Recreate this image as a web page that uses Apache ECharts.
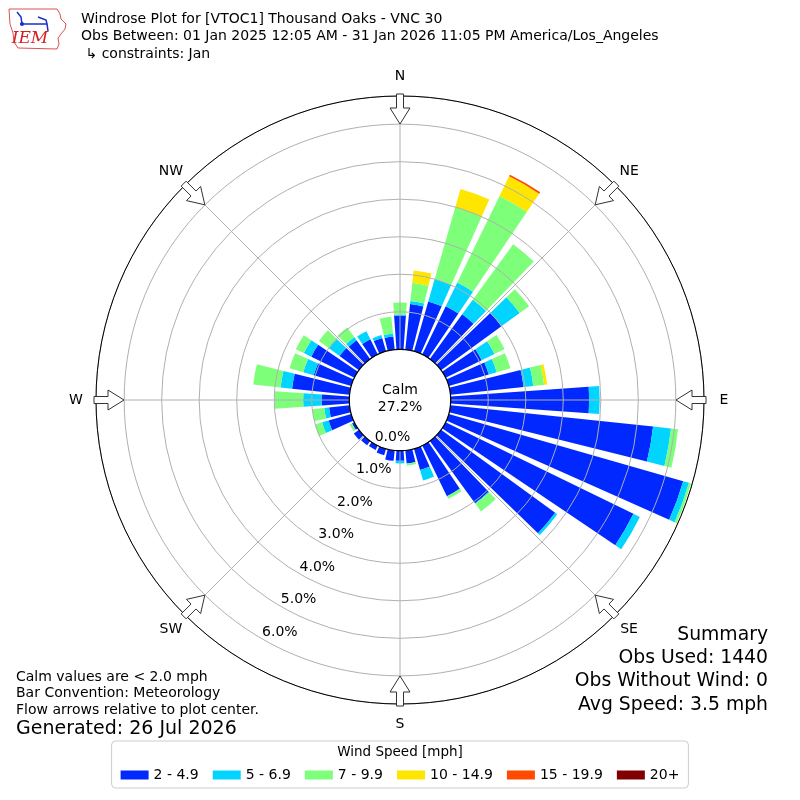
<!DOCTYPE html>
<html><head><meta charset="utf-8">
<script src="https://cdn.jsdelivr.net/npm/echarts@6/dist/echarts.min.js"></script>
<style>html,body{margin:0;padding:0;background:#fff}#c{width:800px;height:800px}</style>
</head><body><div id="c"></div>
<script>
// ---------- data ----------
const directions = [0,10,20,30,40,50,60,70,80,90,100,110,120,130,140,150,160,170,180,190,200,210,220,230,240,250,260,270,280,290,300,310,320,330,340,350];
const speedBins = ['2 - 4.9','5 - 6.9','7 - 9.9','10 - 14.9','15 - 19.9','20+'];
const binColors = ['#0028ff','#00d4ff','#7dff7a','#ffe600','#ff4a00','#800000'];
// percent of observations per direction (meteorological convention)
const s2to5   = [0.90,1.22,1.38,1.43,1.47,1.99,1.07,1.11,1.96,3.69,5.43,6.50,5.57,3.76,2.05,1.50,0.59,0.35,0.27,0.28,0.18,0.13,0.14,0.17,0.07,0.63,0.55,0.74,1.54,1.04,1.28,0.64,0.62,0.45,0.37,0.35];
const s5to7   = [0.03,0.08,0.63,0.70,0.48,0.60,0.38,0.22,0.26,0.28,0.48,0.16,0.19,0.07,0.02,0.00,0.29,0.00,0.07,0.00,0.00,0.00,0.00,0.00,0.00,0.18,0.13,0.49,0.31,0.29,0.22,0.35,0.10,0.24,0.08,0.08];
const s7to10  = [0.32,0.49,1.99,2.57,1.83,0.31,0.30,0.38,0.29,0.00,0.19,0.06,0.00,0.00,0.25,0.08,0.00,0.06,0.00,0.00,0.00,0.00,0.00,0.00,0.07,0.20,0.32,0.76,0.73,0.38,0.24,0.33,0.32,0.00,0.00,0.45];
const s10to15 = [0,0.33,0.50,0.58,0,0,0,0,0.08,0,0,0,0,0,0,0,0,0,0,0,0,0,0,0,0,0,0,0,0,0,0,0,0,0,0,0];
const s15to20 = [0,0,0,0.05,0,0,0,0,0,0,0,0,0,0,0,0,0,0,0,0,0,0,0,0,0,0,0,0,0,0,0,0,0,0,0,0];
const s20plus = [0,0,0,0,0,0,0,0,0,0,0,0,0,0,0,0,0,0,0,0,0,0,0,0,0,0,0,0,0,0,0,0,0,0,0,0];
const ringTicks = [0,1,2,3,4,5,6];
const compassLabels = ['N','NE','E','SE','S','SW','W','NW'];
const compassAngles = [0,45,90,135,180,225,270,315];
const calmPct = 27.2;
const titleLines = ['Windrose Plot for [VTOC1] Thousand Oaks - VNC 30',
  'Obs Between: 01 Jan 2025 12:05 AM - 31 Jan 2026 11:05 PM America/Los_Angeles',
  ' \u21b3 constraints: Jan'];
const noteLines = ['Calm values are < 2.0 mph','Bar Convention: Meteorology','Flow arrows relative to plot center.'];
const generatedText = 'Generated: 26 Jul 2026';
const summaryLines = ['Summary','Obs Used: 1440','Obs Without Wind: 0','Avg Speed: 3.5 mph'];

// ---------- layout ----------
const CX = 400, CY = 400, R0 = 50.7, R1 = 304, RMAX = 6.75;
const FONT = '"DejaVu Sans", "Liberation Sans", sans-serif';
const binSeries = [s2to5, s5to7, s7to10, s10to15, s15to20, s20plus];

const chart = echarts.init(document.getElementById('c'), null, {renderer: 'canvas'});

function rad(deg){ return deg * Math.PI / 180; }
function pt(r, deg){ return [CX + r * Math.sin(rad(deg)), CY - r * Math.cos(rad(deg))]; }

const graphics = [];
function txt(text, x, y, size, align, vAlign, extra){
  graphics.push(Object.assign({type:'text', x:x, y:y, z:100, silent:true,
    style:{text:text, fill:'#000', font: size + 'px ' + FONT, align:align, verticalAlign:vAlign, textAlign:align, textVerticalAlign:vAlign}}, extra||{}));
}

// calm circle
graphics.push({type:'circle', shape:{cx:CX, cy:CY, r:R0}, z:90, silent:true, style:{fill:'#fff', stroke:'#000', lineWidth:1.2}});
txt('Calm', CX, 390, 14, 'center', 'middle');
txt(calmPct.toFixed(1) + '%', CX, 407, 14, 'center', 'middle');

// compass arrows and labels
compassAngles.forEach((a, i) => {
  const s = Math.sin(rad(a)), c = Math.cos(rad(a));
  const P = (r, w) => [CX + r * s + w * c, CY - r * c + w * s];
  const pts = [P(276,0), P(292,10), P(292,3.5), P(306,3.5), P(306,-3.5), P(292,-3.5), P(292,-10)];
  graphics.push({type:'polygon', shape:{points:pts}, z:95, silent:true, style:{fill:'#fff', stroke:'#333', lineWidth:1}});
  const lp = pt(324, a);
  txt(compassLabels[i], lp[0], lp[1], 14, 'center', 'middle');
});

// titles
titleLines.forEach((t, i) => txt(t, 81, 19 + i * 17.5, 14, 'left', 'middle'));
// notes bottom-left
noteLines.forEach((t, i) => txt(t, 16, 677 + i * 16.5, 14, 'left', 'middle'));
txt(generatedText, 16, 729, 19, 'left', 'middle');
// summary bottom-right
summaryLines.forEach((t, i) => txt(t, 768, 635 + i * 23.3, 18.8, 'right', 'middle'));
// legend title
txt('Wind Speed [mph]', 400, 752, 13.5, 'center', 'middle');

// IEM logo (approximate)
graphics.push({type:'polyline', z:100, silent:true, shape:{points:[[9,9],[57,9],[60,14],[61,19],[66,24],[65,29],[61,34],[58,38],[59,44],[57,49],[18,48],[14,42],[13,33],[10,24],[9,9]]}, style:{stroke:'#e05050', lineWidth:1, fill:null}});
graphics.push({type:'polyline', z:100, silent:true, shape:{points:[[17,12],[21,17],[22,24]]}, style:{stroke:'#1a2fc8', lineWidth:1.5, fill:null}});
graphics.push({type:'line', z:100, silent:true, shape:{x1:20, y1:24, x2:47, y2:24}, style:{stroke:'#1a2fc8', lineWidth:1.5}});
graphics.push({type:'polyline', z:100, silent:true, shape:{points:[[38,17],[46,20],[47,24],[48,31]]}, style:{stroke:'#1a2fc8', lineWidth:1.5, fill:null}});
graphics.push({type:'circle', z:100, silent:true, shape:{cx:22, cy:24, r:2}, style:{fill:'#1a2fc8'}});
graphics.push({type:'text', x:30, y:39, z:100, silent:true, style:{text:'IEM', fill:'#d42020', font:'italic 17px "DejaVu Serif", "Liberation Serif", serif', align:'center', verticalAlign:'middle', textAlign:'center', textVerticalAlign:'middle'}});

const option = {
  animation: false,
  backgroundColor: '#fff',
  polar: [
    {center:[CX, CY], radius:[R0, R1]},
    {center:[CX, CY], radius:[R0, R1]}
  ],
  angleAxis: [
    {polarIndex:0, type:'category', data: directions.map(String), startAngle:95, clockwise:true, boundaryGap:true,
     axisLine:{show:false}, axisTick:{show:false}, axisLabel:{show:false}, splitLine:{show:false}, splitArea:{show:false}},
    {polarIndex:1, type:'value', min:0, max:360, interval:45, startAngle:90, clockwise:true, z:11,
     axisLine:{show:true, lineStyle:{color:'#000', width:1}}, axisTick:{show:false}, axisLabel:{show:false},
     splitLine:{show:true, lineStyle:{color:'#b0b0b0', width:1}}, splitArea:{show:false}}
  ],
  radiusAxis: [
    {polarIndex:0, type:'value', min:0, max:RMAX, axisLine:{show:false}, axisTick:{show:false}, axisLabel:{show:false}, splitLine:{show:false}, splitArea:{show:false}},
    {polarIndex:1, type:'value', min:0, max:RMAX, interval:1, z:10, axisLine:{show:false}, axisTick:{show:false}, axisLabel:{show:false},
     splitLine:{show:true, lineStyle:{color:'#b0b0b0', width:1}}, splitArea:{show:false}}
  ],
  legend: {
    data: speedBins, left:'center', top:741, orient:'horizontal', selectedMode:false,
    icon:'rect', itemWidth:28, itemHeight:9, itemGap:14,
    padding:[27, 9, 6, 9], borderColor:'#cccccc', borderWidth:1, borderRadius:4, backgroundColor:'#fff',
    textStyle:{fontSize:14, fontFamily:FONT, color:'#000'}
  },
  series: speedBins.map((name, i) => ({
    type:'bar', name:name, coordinateSystem:'polar', polarIndex:0, stack:'wr',
    data: binSeries[i], barCategoryGap:'20%', z:2, silent:true,
    itemStyle:{color: binColors[i], borderWidth:0}
  })),
  graphic: {elements: graphics}
};
chart.setOption(option);

// radius (percent) labels along compass 210 deg, positioned through the grid polar's scale
const rlabels = ringTicks.map(v => {
  let p = null;
  try { p = chart.convertToPixel({polarIndex:1}, [v, 210]); } catch(e) { p = null; }
  if (!p || isNaN(p[0])) { p = pt(R0 + v * (R1 - R0) / RMAX, 210); }
  return {type:'text', x:p[0], y:p[1], z:100, silent:true,
    style:{text: v.toFixed(1) + '%', fill:'#000', font:'14px ' + FONT, align:'left', verticalAlign:'bottom', textAlign:'left', textVerticalAlign:'bottom'}};
});
chart.setOption({graphic: {elements: graphics.concat(rlabels)}}, {replaceMerge:['graphic']});
</script>
</body></html>
